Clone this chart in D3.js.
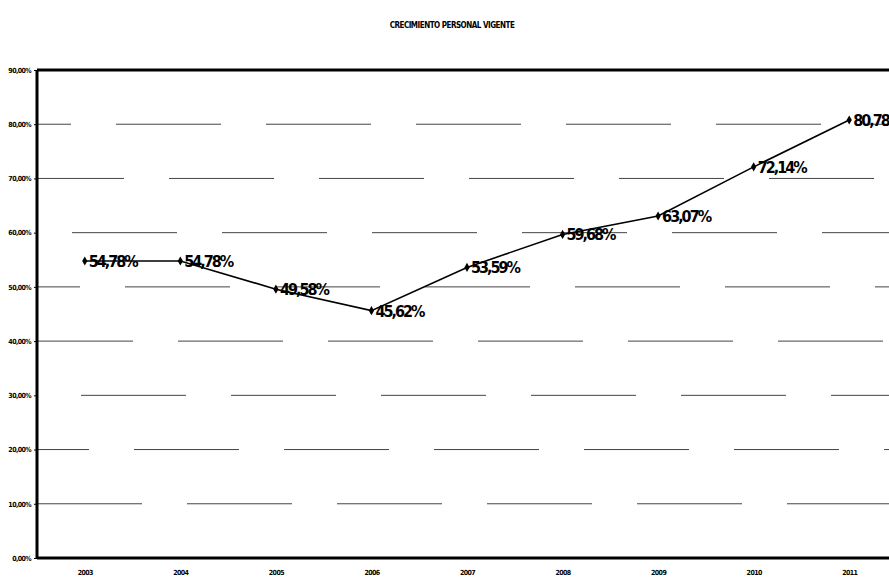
<!DOCTYPE html>
<html>
<head>
<meta charset="utf-8">
<script src="https://cdn.jsdelivr.net/npm/d3@7"></script>
<style>
  body { margin: 0; background: #fff; }
  text { font-family: "DejaVu Sans Condensed", "Liberation Sans Narrow", "Liberation Sans", sans-serif; font-weight: bold; fill: #000; }
</style>
</head>
<body>
<div class="chart"></div>
<script>
(function () {
    // data
    var years = ["2003", "2004", "2005", "2006", "2007", "2008", "2009", "2010", "2011"];
    var values = [54.78, 54.78, 49.58, 45.62, 53.59, 59.68, 63.07, 72.14, 80.78];
    var yTicks = [0, 10, 20, 30, 40, 50, 60, 70, 80, 90];
    var title = "CRECIMIENTO PERSONAL VIGENTE";

    var width = 889, height = 578;
    var left = 37, right = 897, top = 70, bottom = 558;

    var svg = d3.select('.chart').append('svg')
        .attr('width', width)
        .attr('height', height);

    var x = d3.scalePoint().domain(years).range([left, right]).padding(0.5);
    var y = d3.scaleLinear().domain([0, 90]).range([bottom, top]);

    var fmt = function (v) { return v.toFixed(2).replace('.', ',') + '%'; };

    // title
    svg.append('text')
        .attr('x', 452).attr('y', 28)
        .attr('text-anchor', 'middle')
        .style('font-size', '8px')
        .style('letter-spacing', '-0.5px')
        .text(title);

    // dashed gridlines, every row a bit shifted like on the scan
    svg.append('g').selectAll('line')
        .data(yTicks.filter(function (d) { return d > 0 && d < 90; }))
        .enter().append('line')
        .attr('x1', left).attr('x2', width)
        .attr('y1', function (d) { return y(d); })
        .attr('y2', function (d) { return y(d); })
        .attr('stroke', '#444')
        .attr('stroke-width', 1)
        .attr('stroke-dasharray', '105,45')
        .attr('stroke-dashoffset', function (d, i) { return (i * 53) % 150; });

    // frame: thick top, left and bottom
    var frame = svg.append('g').attr('stroke', '#000');
    frame.append('line').attr('x1', left).attr('x2', width).attr('y1', top).attr('y2', top).attr('stroke-width', 3);
    frame.append('line').attr('x1', left).attr('x2', left).attr('y1', top).attr('y2', bottom).attr('stroke-width', 3);
    frame.append('line').attr('x1', left).attr('x2', width).attr('y1', bottom).attr('y2', bottom).attr('stroke-width', 3);

    // y axis
    var yAxis = svg.append('g')
        .attr('transform', 'translate(' + left + ',0)')
        .call(d3.axisLeft(y).tickValues(yTicks).tickSize(3).tickFormat(function (d) { return d.toFixed(2).replace('.', ',') + '%'; }));
    yAxis.select('.domain').remove();
    yAxis.selectAll('line').attr('stroke', '#000');
    yAxis.selectAll('text')
        .attr('fill', '#000')
        .style('font-size', '7px')
        .style('letter-spacing', '-0.6px')
        .style('font-family', null);

    // x axis
    var xAxis = svg.append('g')
        .attr('transform', 'translate(0,' + bottom + ')')
        .call(d3.axisBottom(x).tickSize(0).tickPadding(12));
    xAxis.select('.domain').remove();
    xAxis.selectAll('text')
        .attr('fill', '#000')
        .style('font-size', '7px')
        .style('letter-spacing', '-0.6px')
        .style('font-family', null);

    // line
    var line = d3.line()
        .x(function (d, i) { return x(years[i]); })
        .y(function (d) { return y(d); });

    svg.append('path')
        .datum(values)
        .attr('fill', 'none')
        .attr('stroke', '#000')
        .attr('stroke-width', 1.6)
        .attr('d', line);

    // diamond markers
    svg.append('g').selectAll('path')
        .data(values)
        .enter().append('path')
        .attr('d', d3.symbol().type(d3.symbolDiamond).size(24))
        .attr('transform', function (d, i) { return 'translate(' + x(years[i]) + ',' + y(d) + ')'; })
        .attr('fill', '#000');

    // value labels
    svg.append('g').selectAll('text')
        .data(values)
        .enter().append('text')
        .attr('x', function (d, i) { return x(years[i]) + 4; })
        .attr('y', function (d) { return y(d) + 6; })
        .style('font-size', '16px')
        .style('letter-spacing', '-2px')
        .text(fmt);
}());
</script>
</body>
</html>
